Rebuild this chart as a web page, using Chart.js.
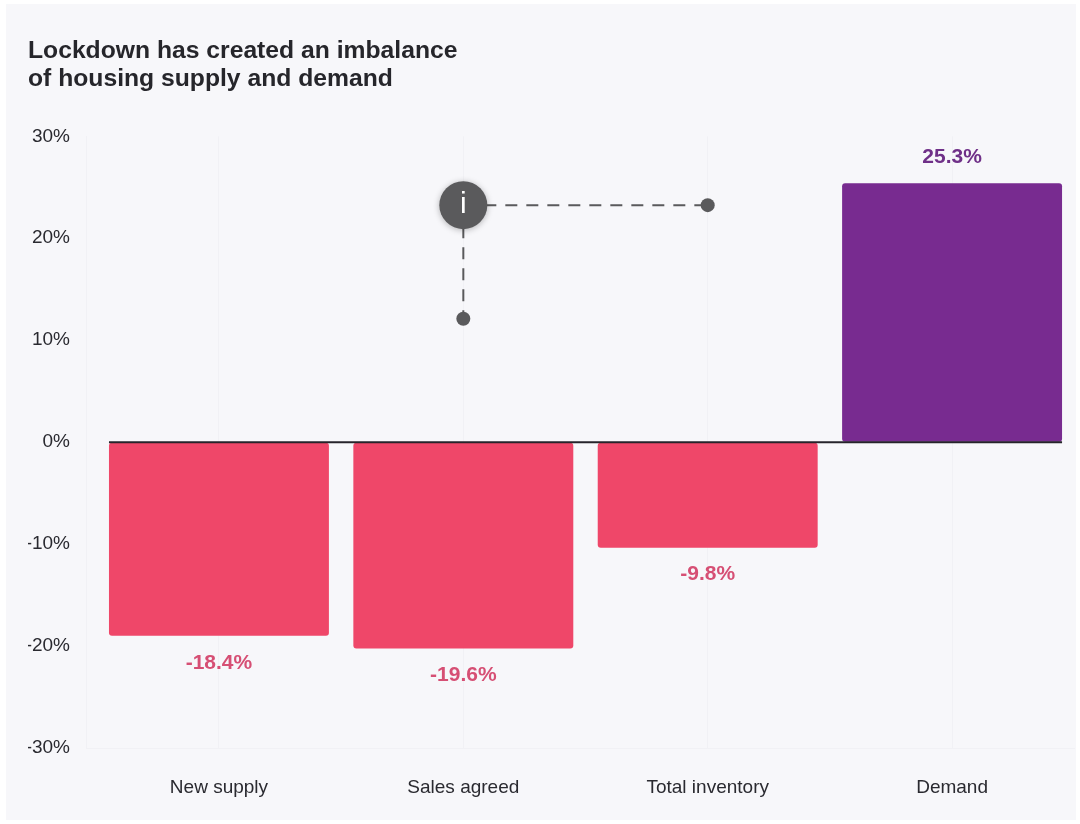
<!DOCTYPE html>
<html><head><meta charset="utf-8">
<script src="https://cdn.jsdelivr.net/npm/chart.js@4/dist/chart.umd.min.js"></script>
<style>
html,body{margin:0;padding:0;background:#fff;width:1080px;height:824px;overflow:hidden}
#wrap{position:absolute;left:0;top:0;width:1080px;height:824px}
</style></head><body>
<div id="wrap"><canvas id="c" width="1080" height="824"></canvas></div>
<script>
const categories = ["New supply","Sales agreed","Total inventory","Demand"];
const barValues = [-19.0,-20.25,-10.35,25.4];
const valueLabels = ["-18.4%","-19.6%","-9.8%","25.3%"];
const barColors = ["#ef4769","#ef4769","#ef4769","#782b90"];
const labelColors = ["#d64f74","#d64f74","#d64f74","#6f3088"];
const yTicks = [-30,-20,-10,0,10,20,30];
const titleLines = ["Lockdown has created an imbalance","of housing supply and demand"];
const calloutHub = {x:1,y:23.25};
const calloutRightEnd = {x:2,y:23.25};
const calloutDownEnd = {x:1,y:12.1};
const zeroLine = [{x:-0.45,y:0},{x:3.45,y:0}];
const FONT = '"Liberation Sans", Arial, sans-serif';

const bgPlugin = {
  id:'bg',
  beforeDraw(ch){
    const c=ch.ctx; c.save();
    c.fillStyle='#f7f7fa'; c.fillRect(6,4,1070,816);
    c.restore();
  },
  beforeDatasetDraw(ch,args){
    if(args.index===1){
      const c=ch.ctx; c.save();
      c.shadowColor='rgba(0,0,0,0.28)'; c.shadowBlur=6; c.shadowOffsetY=1;
    }
  },
  afterDatasetDraw(ch,args){
    if(args.index===1){ ch.ctx.restore(); }
  }
};
const labelPlugin = {
  id:'labels',
  afterDatasetsDraw(ch){
    const c=ch.ctx, xs=ch.scales.x, ys=ch.scales.y;
    c.save();
    c.font='bold 21px '+FONT; c.textAlign='center'; c.textBaseline='middle';
    barValues.forEach((v,i)=>{
      c.fillStyle=labelColors[i];
      const py=ys.getPixelForValue(v)+(v<0?27:-26);
      c.fillText(valueLabels[i],xs.getPixelForValue(i),py);
    });
    const hx=xs.getPixelForValue(calloutHub.x), hy=ys.getPixelForValue(calloutHub.y);
    c.fillStyle='#ffffff'; c.font='30px '+FONT;
    c.fillText('i',hx,hy);
    c.restore();
  }
};
new Chart(document.getElementById('c'),{
  data:{datasets:[
    {type:'line',label:'zero',data:zeroLine,borderColor:'#26242b',borderWidth:2,pointRadius:0,order:1},
    {type:'line',label:'hub',data:[calloutHub],pointRadius:24,pointBackgroundColor:'#5a5a5c',pointBorderWidth:0,showLine:false,order:2},
    {type:'line',label:'right',data:[calloutHub,calloutRightEnd],borderColor:'#5a5a5c',borderWidth:2,borderDash:[12,9],
      pointRadius:[0,7],pointBackgroundColor:'#5a5a5c',pointBorderWidth:0,order:3},
    {type:'line',label:'down',data:[calloutHub,calloutDownEnd],borderColor:'#5a5a5c',borderWidth:2,borderDash:[12,9],
      pointRadius:[0,7],pointBackgroundColor:'#5a5a5c',pointBorderWidth:0,order:3},
    {type:'bar',label:'change',data:barValues.map((v,i)=>({x:i,y:v})),backgroundColor:barColors,
      borderRadius:{topLeft:3,topRight:3,bottomLeft:3,bottomRight:3},borderSkipped:false,barPercentage:0.9,categoryPercentage:1,order:4}
  ]},
  options:{
    responsive:false,animation:false,
    layout:{autoPadding:false,padding:{left:28,right:5,top:37,bottom:0}},
    plugins:{legend:{display:false},tooltip:{enabled:false},
      title:{display:true,text:titleLines,align:'start',color:'#26262b',font:{family:FONT,size:24.7,weight:'bold',lineHeight:1.14},padding:{top:0,bottom:43}}},
    scales:{
      x:{type:'linear',min:-0.544,max:3.503,offset:false,
        afterBuildTicks(s){s.ticks=categories.map((_,i)=>({value:i}));},
        afterFit(s){s.paddingLeft=0;s.paddingRight=0;s.height=76;},
        grid:{offset:false,color:'#f1f1f5',lineWidth:1,drawTicks:false},
        border:{display:false},
        ticks:{autoSkip:false,maxRotation:0,padding:28,color:'#2a2a30',font:{family:FONT,size:19},
          callback:v=>categories[v]}},
      y:{min:-30,max:30,
        afterBuildTicks(s){s.ticks=yTicks.map(v=>({value:v}));},
        afterFit(s){s.width=58;},
        grid:{color(ctx){return ctx.tick&&ctx.tick.value===-30?'#f1f1f5':'rgba(0,0,0,0)';},drawTicks:false},
        border:{display:true,color:'#f1f1f5'},
        ticks:{padding:16,color:'#2a2a30',font:{family:FONT,size:19},callback:v=>v+'%'}}
    }
  },
  plugins:[bgPlugin,labelPlugin]
});
</script></body></html>
